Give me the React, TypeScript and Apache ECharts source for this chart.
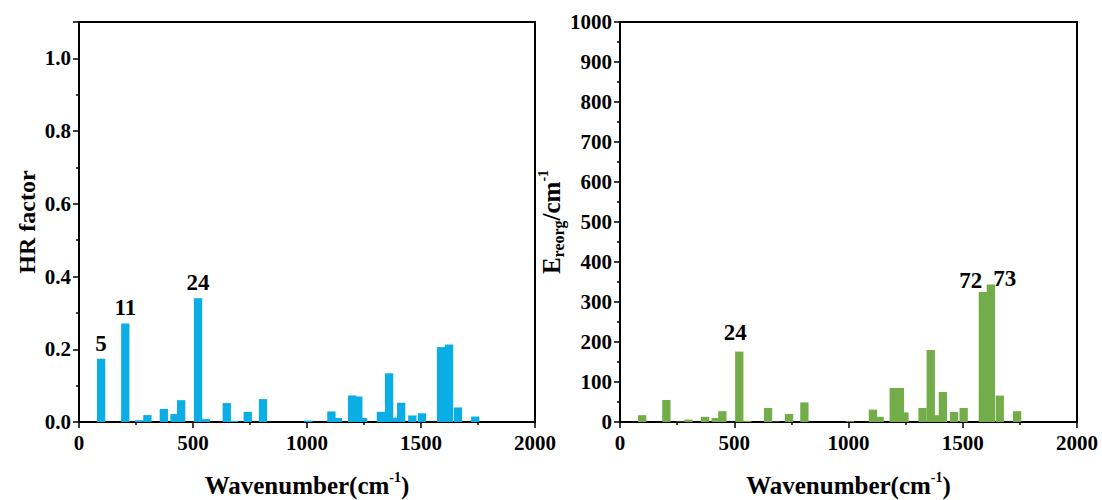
import React, { useEffect, useRef } from "react";
import * as echarts from "echarts";

const wavenumbers = [97, 203, 263, 300, 372, 419, 448, 522, 557, 648, 680, 740, 807, 1006, 1107, 1136, 1198, 1225, 1245, 1324, 1360, 1388, 1413, 1462, 1504, 1588, 1623, 1662, 1738];
const hrFactors = [0.174, 0.271, 0.005, 0.019, 0.036, 0.022, 0.060, 0.340, 0.008, 0.052, 0.003, 0.028, 0.063, 0.004, 0.029, 0.011, 0.073, 0.070, 0.011, 0.028, 0.134, 0.012, 0.053, 0.018, 0.024, 0.206, 0.213, 0.040, 0.015];
const reorgEnergies = [17, 55, 1, 6, 13, 10, 27, 176, 3, 35, 1, 20, 49, 2, 31, 13, 85, 85, 24, 35, 180, 17, 75, 25, 35, 325, 344, 66, 27];

// mode labels: index in arrays -> mode number text
const leftModeLabels: Record<number, string> = { 0: "5", 1: "11", 7: "24" };
const rightModeLabels: Record<number, string> = { 7: "24", 25: "72", 26: "73" };
const rightLabelOffsets: Record<number, number[]> = { 7: [-4, -4], 25: [-12, 4], 26: [14, 10] };

const FONT = "Liberation Serif";
const BLUE = "#0AAEE4";
const GREEN = "#72AD4A";

export default function App() {
  const ref = useRef<HTMLDivElement>(null);
  useEffect(() => {
    if (!ref.current) return;
    const chart = echarts.init(ref.current, null, { renderer: "svg" });

    const labelStyle = {
      show: true,
      position: "top",
      fontFamily: FONT,
      fontWeight: "bold",
      fontSize: 23,
      color: "#000",
      distance: 4,
    };

    const leftData = wavenumbers.map((w, i) => {
      const item: any = { value: [w, hrFactors[i]] };
      if (leftModeLabels[i]) {
        item.label = { ...labelStyle, formatter: leftModeLabels[i] };
      }
      return item;
    });
    const rightData = wavenumbers.map((w, i) => {
      const item: any = { value: [w, reorgEnergies[i]] };
      if (rightModeLabels[i]) {
        item.label = { ...labelStyle, formatter: rightModeLabels[i], offset: rightLabelOffsets[i] };
      }
      return item;
    });

    const axisCommon = {
      axisLine: { show: true, onZero: false, lineStyle: { color: "#000", width: 2 } },
      axisTick: { show: true, inside: false, length: 6, lineStyle: { color: "#000", width: 1.5 } },
      minorTick: { show: true, splitNumber: 2, length: 3, lineStyle: { color: "#000", width: 1.5 } },
      splitLine: { show: false },
      axisLabel: {
        fontFamily: FONT,
        fontWeight: "bold",
        fontSize: 21,
        color: "#000",
        margin: 8,
        formatter: (v: number) => String(v),
      },
    };

    const xAxisBase = (gridIndex: number) => ({
      ...axisCommon,
      type: "value",
      gridIndex,
      min: 0,
      max: 2000,
      interval: 500,
      axisLabel: { ...axisCommon.axisLabel, margin: 10 },
      name: "{t|Wavenumber(cm}{s|-1}{t|)}",
      nameLocation: "middle",
      nameGap: 48,
      nameTextStyle: {
        rich: {
          t: { fontFamily: FONT, fontWeight: "bold", fontSize: 25, color: "#000", lineHeight: 28, verticalAlign: "bottom" },
          s: { fontFamily: FONT, fontWeight: "bold", fontSize: 14, color: "#000", lineHeight: 28, verticalAlign: "top" },
        },
      },
    });

    const gridCommon = {
      top: 22,
      bottom: 78,
      show: true,
      borderColor: "#000",
      borderWidth: 2,
      backgroundColor: "transparent",
      containLabel: false,
      outerBoundsMode: "none",
    };

    const option: any = {
      animation: false,
      backgroundColor: "#fff",
      grid: [
        { ...gridCommon, left: 79, right: 567 },
        { ...gridCommon, left: 620, right: 25 },
      ],
      xAxis: [xAxisBase(0), xAxisBase(1)],
      yAxis: [
        {
          ...axisCommon,
          type: "value",
          gridIndex: 0,
          min: 0,
          max: 1.1,
          interval: 0.2,
          axisLabel: {
            ...axisCommon.axisLabel,
            formatter: (v: number) => (v > 1.05 ? "" : v.toFixed(1)),
          },
          name: "HR factor",
          nameLocation: "middle",
          nameGap: 40,
          nameTextStyle: { fontFamily: FONT, fontWeight: "bold", fontSize: 24, color: "#000" },
        },
        {
          ...axisCommon,
          type: "value",
          gridIndex: 1,
          min: 0,
          max: 1000,
          interval: 100,
          name: "{t|E}{sub|reorg}{t|/cm}{sup|-1}",
          nameLocation: "middle",
          nameGap: 44,
          nameTextStyle: {
            rich: {
              t: { fontFamily: FONT, fontWeight: "bold", fontSize: 25, color: "#000", lineHeight: 30, verticalAlign: "middle" },
              sub: { fontFamily: FONT, fontWeight: "bold", fontSize: 16, color: "#000", lineHeight: 30, verticalAlign: "bottom" },
              sup: { fontFamily: FONT, fontWeight: "bold", fontSize: 14, color: "#000", lineHeight: 30, verticalAlign: "top" },
            },
          },
        },
      ],
      series: [
        {
          type: "bar",
          xAxisIndex: 0,
          yAxisIndex: 0,
          data: leftData,
          barWidth: 8.3,
          itemStyle: { color: BLUE },
          label: { show: false },
        },
        {
          type: "bar",
          xAxisIndex: 1,
          yAxisIndex: 1,
          data: rightData,
          barWidth: 8.3,
          itemStyle: { color: GREEN },
          label: { show: false },
        },
      ],
    };

    chart.setOption(option);
    return () => chart.dispose();
  }, []);

  return (
    <div
      ref={ref}
      style={{ position: "fixed", left: 0, top: 0, width: 1102, height: 500, background: "#fff" }}
    />
  );
}
